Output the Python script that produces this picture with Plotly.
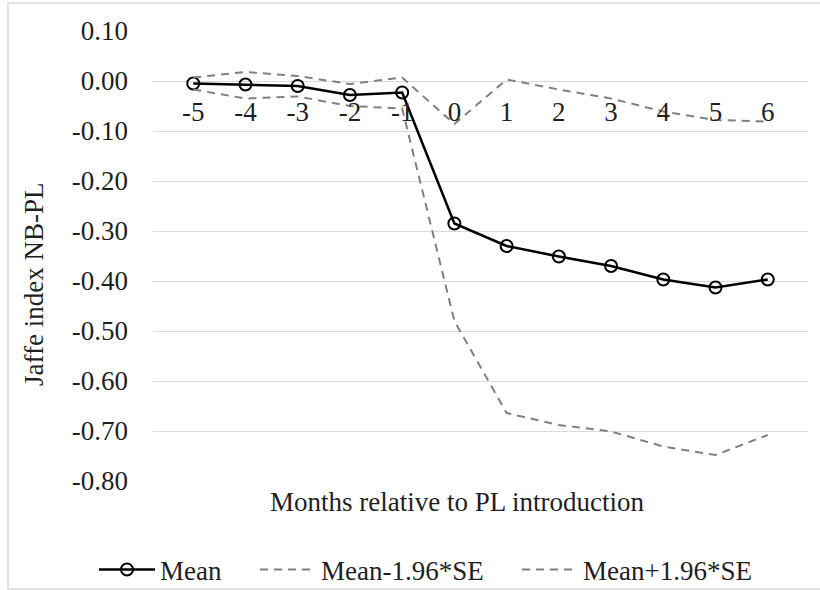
import plotly.graph_objects as go

months = ["-5", "-4", "-3", "-2", "-1", "0", "1", "2", "3", "4", "5", "6"]
mean_vals = [-0.005, -0.007, -0.010, -0.028, -0.023, -0.285, -0.330, -0.351, -0.370, -0.397, -0.413, -0.397]
lower_vals = [-0.017, -0.035, -0.031, -0.050, -0.055, -0.480, -0.664, -0.688, -0.701, -0.731, -0.748, -0.708]
upper_vals = [0.007, 0.018, 0.010, -0.006, 0.007, -0.086, 0.003, -0.017, -0.035, -0.061, -0.078, -0.081]
y_ticks = [0.10, 0.00, -0.10, -0.20, -0.30, -0.40, -0.50, -0.60, -0.70, -0.80]
y_tick_labels = ["%.2f" % v if v != 0 else "0.00" for v in y_ticks]

FONT = "Liberation Serif"
TXT = "#1f1f1f"
GRAY = "#808080"
FS = 27

def f(size=FS):
    return dict(family=FONT, size=size, color=TXT)

fig = go.Figure()
fig.add_trace(go.Scatter(
    x=months, y=mean_vals, name="Mean", mode="lines+markers", legend="legend",
    line=dict(color="black", width=2.5),
    marker=dict(symbol="circle-open", size=12, color="black", line=dict(width=2, color="black")),
))
fig.add_trace(go.Scatter(
    x=months, y=lower_vals, name="Mean-1.96*SE", mode="lines", legend="legend2",
    line=dict(color=GRAY, width=2, dash="8px,6px"),
))
fig.add_trace(go.Scatter(
    x=months, y=upper_vals, name="Mean+1.96*SE", mode="lines", legend="legend3",
    line=dict(color=GRAY, width=2, dash="8px,6px"),
))

L, R, T, B = 153, 12, 31, 109
W, H = 820, 590
pw, ph = W - L - R, H - T - B

def px_x(x):
    return (x - L) / pw

def px_y(y):
    return (H - B - y) / ph

ymin, ymax = -0.80, 0.10
zero_pos = (0 - ymin) / (ymax - ymin)

def leg(xpix):
    return dict(orientation="h", x=px_x(xpix), y=px_y(570), xanchor="left", yanchor="middle",
                itemwidth=56, font=f(), bgcolor="rgba(0,0,0,0)")

fig.update_layout(
    width=W, height=H,
    margin=dict(l=L, r=R, t=T, b=B, autoexpand=False),
    paper_bgcolor="white", plot_bgcolor="white",
    font=f(),
    showlegend=True,
    legend=leg(94),
    legend2=leg(255),
    legend3=leg(517),
    xaxis=dict(
        type="category", anchor="free", position=zero_pos, automargin=False,
        showgrid=False, showline=False, zeroline=False, ticks="",
        ticklabelstandoff=12, tickfont=f(),
    ),
    yaxis=dict(
        range=[ymin, ymax], tickvals=y_ticks, ticktext=y_tick_labels, automargin=False,
        showgrid=True, gridcolor="#d9d9d9", gridwidth=1.3,
        zeroline=False, showline=False, ticks="",
        ticklabelstandoff=24, tickfont=f(),
    ),
    annotations=[
        dict(text="Jaffe index NB-PL", xref="paper", yref="paper", x=px_x(34), y=px_y(285),
             textangle=-90, showarrow=False, xanchor="center", yanchor="middle", font=f()),
        dict(text="Months relative to PL introduction", xref="paper", yref="paper",
             x=px_x(457), y=px_y(502), showarrow=False, xanchor="center", yanchor="middle",
             font=f()),
    ],
    shapes=[
        dict(type="rect", xref="paper", yref="paper",
             x0=px_x(8), x1=px_x(826), y0=px_y(589), y1=px_y(3),
             line=dict(color="#d9d9d9", width=1.5), fillcolor="rgba(0,0,0,0)", layer="below"),
    ],
)

fig.write_html("out.html", config={"displayModeBar": False},
               post_script="document.body.style.margin='0';")
